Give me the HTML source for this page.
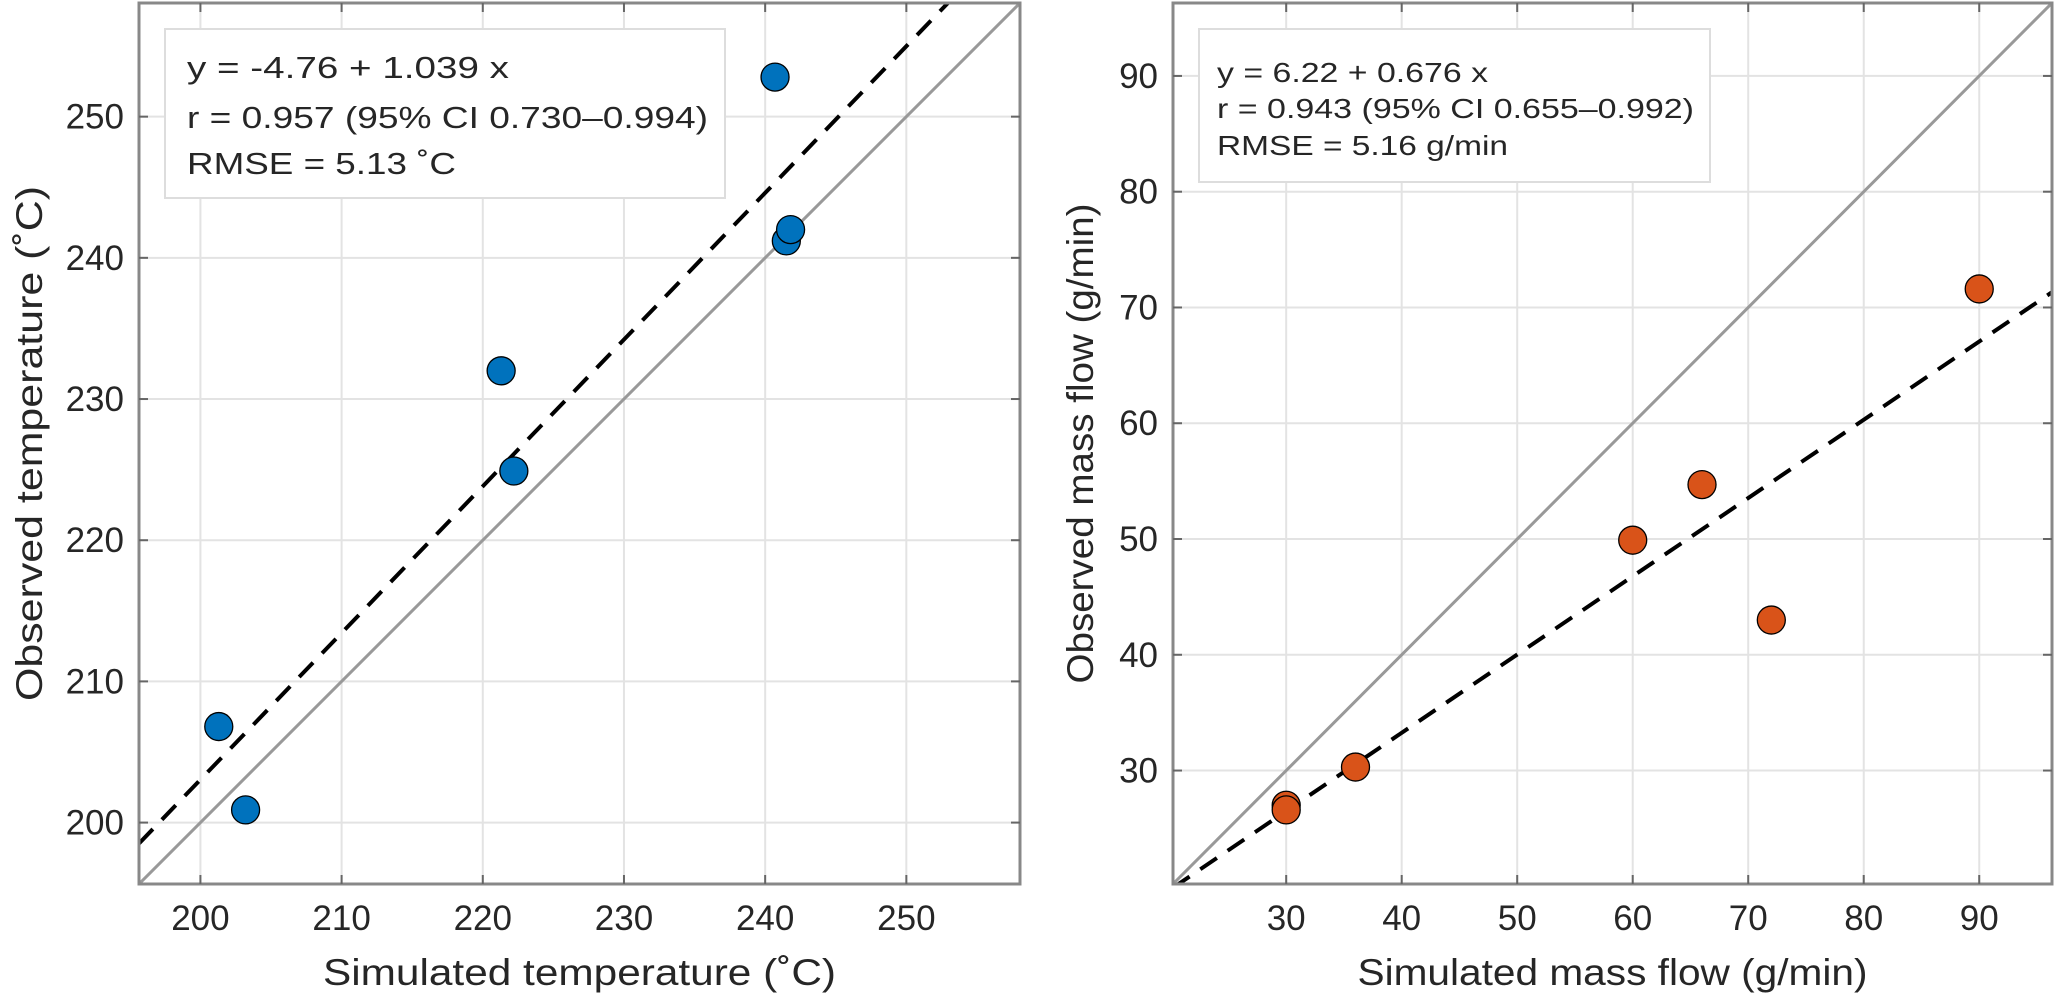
<!DOCTYPE html>
<html><head><meta charset="utf-8"><style>
html,body{margin:0;padding:0;background:#fff;}
svg{display:block;font-family:"Liberation Sans",Arial,sans-serif;}
</style></head><body>
<svg id="chart" width="2056" height="995" xmlns="http://www.w3.org/2000/svg"></svg>
<script>
// Left panel data
const tempSim = [201.3, 203.2, 221.3, 222.2, 240.7, 241.5, 241.8];
const tempObs = [206.8, 200.9, 232.0, 224.9, 252.8, 241.2, 242.0];
const tempTicks = [200, 210, 220, 230, 240, 250];
const tempFit = [-4.76, 1.039];
// Right panel data
const flowSim = [30, 30, 36, 60, 66, 72, 90];
const flowObs = [27.0, 26.6, 30.3, 49.9, 54.7, 43.0, 71.6];
const flowTicks = [30, 40, 50, 60, 70, 80, 90];
const flowFit = [6.22, 0.676];

const NS = "http://www.w3.org/2000/svg";
const svg = document.getElementById('chart');
function mk(tag, attrs, parent, text) {
  const e = document.createElementNS(NS, tag);
  for (const k in attrs) e.setAttribute(k, attrs[k]);
  if (text !== undefined) e.textContent = text;
  (parent || svg).appendChild(e);
  return e;
}

function panel(cfg) {
  const g = mk('g', {});
  
  
  const L = cfg.left, R = cfg.right, T = 3, B = 884;
  const sx = v => L + (v - cfg.min) / (cfg.max - cfg.min) * (R - L);
  const sy = v => B - (v - cfg.min) / (cfg.max - cfg.min) * (B - T);
  const clip = 'clip-' + cfg.name;
  const cp = mk('clipPath', {id: clip}, g);
  mk('rect', {x: L, y: T, width: R - L, height: B - T}, cp);
  cfg.ticks.forEach(t => {
    const gx = mk('line', {x1: sx(t), x2: sx(t), y1: T, y2: B, stroke: '#e3e3e3', 'stroke-width': 2}, g);
    
    
    const gy = mk('line', {x1: L, x2: R, y1: sy(t), y2: sy(t), stroke: '#e3e3e3', 'stroke-width': 2}, g);
    
    
  });
  const id = mk('line', {x1: sx(cfg.min), y1: sy(cfg.min), x2: sx(cfg.max), y2: sy(cfg.max), stroke: '#999', 'stroke-width': 3, 'clip-path': 'url(#' + clip + ')'}, g);
  
  
  const f = v => cfg.fit[0] + cfg.fit[1] * v;
  const fl = mk('line', {x1: sx(cfg.min), y1: sy(f(cfg.min)), x2: sx(cfg.max), y2: sy(f(cfg.max)), stroke: '#000', 'stroke-width': 4, 'stroke-dasharray': '20 13', 'clip-path': 'url(#' + clip + ')'}, g);
  
  
  cfg.xs.forEach((x, i) => {
    const c = mk('circle', {cx: sx(x), cy: sy(cfg.ys[i]), r: 14, fill: cfg.color, stroke: '#000', 'stroke-width': 1.3}, g);
    
    
  });
  const box = mk('rect', {x: L, y: T, width: R - L, height: B - T, fill: 'none', stroke: '#888', 'stroke-width': 3}, g);
  
  
  cfg.ticks.forEach(t => {
    mk('line', {x1: sx(t), x2: sx(t), y1: B, y2: B - 9, stroke: '#666', 'stroke-width': 2}, g);
    mk('line', {x1: sx(t), x2: sx(t), y1: T, y2: T + 9, stroke: '#666', 'stroke-width': 2}, g);
    mk('line', {x1: L, x2: L + 9, y1: sy(t), y2: sy(t), stroke: '#666', 'stroke-width': 2}, g);
    mk('line', {x1: R, x2: R - 9, y1: sy(t), y2: sy(t), stroke: '#666', 'stroke-width': 2}, g);
    const xl = mk('text', {x: sx(t), y: 930, 'font-size': 35, 'text-anchor': 'middle', fill: '#262626'}, g, String(t));
    
    
    const yl = mk('text', {x: L - 15, y: sy(t) + 12, 'font-size': 35, 'text-anchor': 'end', fill: '#262626'}, g, String(t));
    
    
  });
  const xt = mk('text', {x: (L + R) / 2, y: 985, 'font-size': 37, 'text-anchor': 'middle', fill: '#262626', textLength: cfg.xtLen, lengthAdjust: 'spacingAndGlyphs'}, g, cfg.xtitle);
  
  
  const yt = mk('text', {x: 0, y: 0, 'font-size': 37, 'text-anchor': 'middle', fill: '#262626', transform: 'translate(' + cfg.ytX + ',' + ((T + B) / 2) + ') rotate(-90)', textLength: cfg.ytLen, lengthAdjust: 'spacingAndGlyphs'}, g, cfg.ytitle);
  
  
  const ab = cfg.ann;
  const ag = mk('g', {}, g);
  
  
  mk('rect', {x: ab.x, y: ab.y, width: ab.w, height: ab.h, fill: '#fff', stroke: '#ddd', 'stroke-width': 2}, ag);
  ab.lines.forEach((ln, i) => {
    const t = mk('text', {x: ab.tx, y: ab.ly[i], 'font-size': ab.fs, fill: '#262626', textLength: ab.lens[i], lengthAdjust: 'spacingAndGlyphs'}, ag, ln);
    
    
  });
}

panel({name: 'temperature-panel', left: 139, right: 1020, min: 195.65, max: 258.05,
  ticks: tempTicks, xs: tempSim, ys: tempObs, fit: tempFit, color: '#0072BD',
  xtitle: 'Simulated  temperature  (˚C)', xtLen: 513, ytitle: 'Observed  temperature  (˚C)', ytLen: 515, ytX: 42,
  ann: {x: 165, y: 29, w: 560, h: 169, tx: 187, fs: 31, ly: [78, 128, 174],
    lines: ['y  =  -4.76  +  1.039  x', 'r  =  0.957  (95%  CI  0.730–0.994)', 'RMSE  =  5.13  ˚C'],
    lens: [322, 521, 269]}});

panel({name: 'mass-flow-panel', left: 1173, right: 2052, min: 20.2, max: 96.3,
  ticks: flowTicks, xs: flowSim, ys: flowObs, fit: flowFit, color: '#D95319',
  xtitle: 'Simulated mass flow (g/min)', xtLen: 510, ytitle: 'Observed mass flow (g/min)', ytLen: 480, ytX: 1093,
  ann: {x: 1199, y: 29, w: 511, h: 153, tx: 1217, fs: 28, ly: [82, 118, 155],
    lines: ['y = 6.22 + 0.676 x', 'r = 0.943 (95% CI 0.655–0.992)', 'RMSE = 5.16 g/min'],
    lens: [271, 477, 291]}});
</script>
</body></html>
